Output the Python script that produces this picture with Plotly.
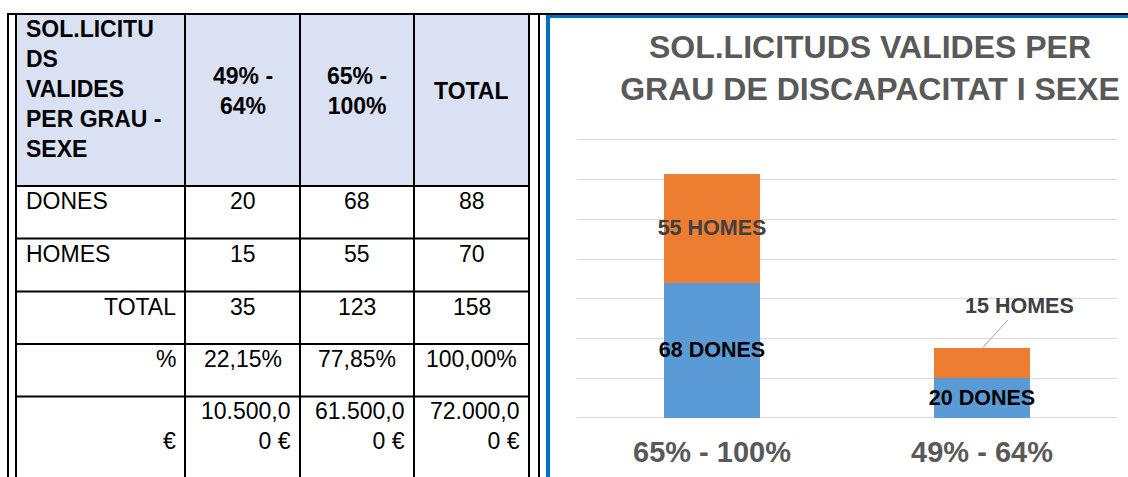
"""
Sol.licituds valides per grau de discapacitat i sexe: summary table plus stacked bars.
"""

import plotly.graph_objects as go

# Chart data (order as drawn, left to right)
GRAUS = ["65% - 100%", "49% - 64%"]
DONES = [68, 20]
HOMES = [55, 15]

# Table data
TABLE_HEADER = [
    "SOL.LICITU<br>DS<br>VALIDES<br>PER GRAU -<br>SEXE",
    "49% -<br>64%",
    "65% -<br>100%",
    "TOTAL",
]
ROW_LABELS = ["DONES", "HOMES", "TOTAL", "%", "€"]
TABLE_DONES = ["20", "68", "88"]
TABLE_HOMES = ["15", "55", "70"]
TABLE_TOTAL = ["35", "123", "158"]
TABLE_PCT = ["22,15%", "77,85%", "100,00%"]
TABLE_EUR = ["10.500,0<br>0 €", "61.500,0<br>0 €", "72.000,0<br>0 €"]

W, H = 1128, 477
FONT = "Liberation Sans, Arial, sans-serif"

# Table geometry (pixels)
COL_EDGES = [16, 185, 300, 414, 529]
ROW_EDGES = [14, 186, 238.5, 291.5, 344, 396.5, 500]
LABEL_ALIGN = ["left", "left", "right", "right", "right"]
VALUE_ALIGN = ["center", "center", "center", "center", "right"]
TABLE_FONT_SIZE = 23
LINE_STEP = TABLE_FONT_SIZE * 1.3

# Chart plot area (pixels): baseline at 418, ~1.986 px per unit
Y_MAX = 142
PLOT_BOTTOM = 418
PLOT_TOP = PLOT_BOTTOM - Y_MAX * 278 / 140


def px(x):
    return x / W


def py(y):
    return 1 - y / H


def n_lines(text):
    return text.count("<br>") + 1


def hline(x0, x1, y, color="black", width=2):
    return dict(type="line", xref="paper", yref="paper", x0=px(x0), x1=px(x1),
                y0=py(y), y1=py(y), line=dict(color=color, width=width))


def vline(x, y0, y1, color="black", width=2):
    return dict(type="line", xref="paper", yref="paper", x0=px(x), x1=px(x),
                y0=py(y0), y1=py(y1), line=dict(color=color, width=width))


def cell_text(text, col, top, align, center_y=None, bold=False):
    if center_y is None:
        center_y = top + 15 + (n_lines(text) - 1) * LINE_STEP / 2
    left, right = COL_EDGES[col], COL_EDGES[col + 1]
    if align == "left":
        x, anchor = left + 8, "left"
    elif align == "right":
        x, anchor = right - 7, "right"
    else:
        x, anchor = (left + right) / 2, "center"
    return dict(text=text, xref="paper", yref="paper", x=px(x), y=py(center_y),
                xanchor=anchor, yanchor="middle", showarrow=False, align=anchor,
                font=dict(family=FONT, size=TABLE_FONT_SIZE, color="black",
                          weight="bold" if bold else "normal"))


fig = go.Figure()

fig.add_trace(go.Bar(
    x=GRAUS, y=DONES, name="DONES",
    marker=dict(color="#5B9BD5", line=dict(width=0)),
    text=[f"{v} DONES" for v in DONES],
    textposition="inside", insidetextanchor="middle", constraintext="none",
    textangle=0,
    textfont=dict(family=FONT, size=21.5, color="black", weight="bold"),
    cliponaxis=False, hoverinfo="x+y",
))

# the small bar gets its label outside with a leader line
homes_inside = [True, False]
fig.add_trace(go.Bar(
    x=GRAUS, y=HOMES, name="HOMES",
    marker=dict(color="#ED7D31", line=dict(width=0)),
    text=[f"{v} HOMES" if ins else "" for v, ins in zip(HOMES, homes_inside)],
    textposition="inside", insidetextanchor="middle", constraintext="none",
    textangle=0,
    textfont=dict(family=FONT, size=21.5, color="#404040", weight="bold"),
    cliponaxis=False, hoverinfo="x+y",
))

annotations = []
for g, d, h, ins in zip(GRAUS, DONES, HOMES, homes_inside):
    if not ins:
        annotations.append(dict(
            x=g, y=d + h, xref="x", yref="y", text=f"{h} HOMES",
            showarrow=True, arrowhead=0, arrowwidth=1, arrowcolor="#A6A6A6",
            ax=38, ay=-42, standoff=0,
            font=dict(family=FONT, size=21.5, color="#404040", weight="bold"),
        ))

# Table cells
shapes = [dict(type="rect", xref="paper", yref="paper", layer="below",
               x0=px(COL_EDGES[0]), x1=px(COL_EDGES[-1]),
               y0=py(ROW_EDGES[1]), y1=py(ROW_EDGES[0]),
               fillcolor="#DAE1F3", line=dict(width=0))]

for c, txt in enumerate(TABLE_HEADER):
    if c == 0:
        annotations.append(cell_text(txt, c, ROW_EDGES[0], "left", bold=True))
    else:
        annotations.append(cell_text(txt, c, ROW_EDGES[0], "center",
                                     center_y=91, bold=True))

body = [TABLE_DONES, TABLE_HOMES, TABLE_TOTAL, TABLE_PCT, TABLE_EUR]
for r, (label, values) in enumerate(zip(ROW_LABELS, body)):
    top = ROW_EDGES[r + 1]
    # the row label sits on the last text line of its row
    last_line = max(n_lines(v) for v in values) - 1
    annotations.append(cell_text(label, 0, top, LABEL_ALIGN[r],
                                 center_y=top + 15 + last_line * LINE_STEP))
    for c, v in enumerate(values):
        annotations.append(cell_text(v, c + 1, top, VALUE_ALIGN[r]))

for y in ROW_EDGES[:-1]:
    shapes.append(hline(COL_EDGES[0], COL_EDGES[-1], y))
for x in COL_EDGES:
    shapes.append(vline(x, ROW_EDGES[0], H + 5))

# outer double frame and chart panel border
shapes.append(vline(8, 14, H + 5))
shapes.append(vline(539, 14, H + 5))
shapes.append(hline(7, W + 5, 14))
shapes.append(vline(548, 16, H + 5, color="#0070C0", width=4))
shapes.append(hline(546, W + 5, 16.5, color="#0070C0", width=3))

fig.update_layout(
    width=W, height=H, autosize=False,
    margin=dict(l=0, r=0, t=0, b=0),
    paper_bgcolor="white", plot_bgcolor="white",
    barmode="stack", bargap=0.646, showlegend=False,
    title=dict(
        text="SOL.LICITUDS VALIDES PER<br>GRAU DE DISCAPACITAT I SEXE",
        x=870 / W, xanchor="center", xref="container",
        y=1 - 58 / H, yanchor="top", yref="container",
        font=dict(family=FONT, size=32, color="#595959", weight="bold"),
    ),
    xaxis=dict(
        domain=[px(577), px(1117)], showgrid=False, zeroline=False,
        showline=False, ticks="", ticklabelstandoff=14,
        tickfont=dict(family=FONT, size=29, color="#595959", weight="bold"),
    ),
    yaxis=dict(
        domain=[py(PLOT_BOTTOM), py(PLOT_TOP)], range=[0, Y_MAX], dtick=20,
        showgrid=True, gridcolor="#D9D9D9", gridwidth=1,
        zeroline=True, zerolinecolor="#D9D9D9", zerolinewidth=1,
        showticklabels=False, showline=False, ticks="",
    ),
    shapes=shapes,
    annotations=annotations,
)

# the page's default body margin would shift the figure by 8px
fig.write_html("out.html", config={"displayModeBar": False},
               post_script="document.body.style.margin='0';")
